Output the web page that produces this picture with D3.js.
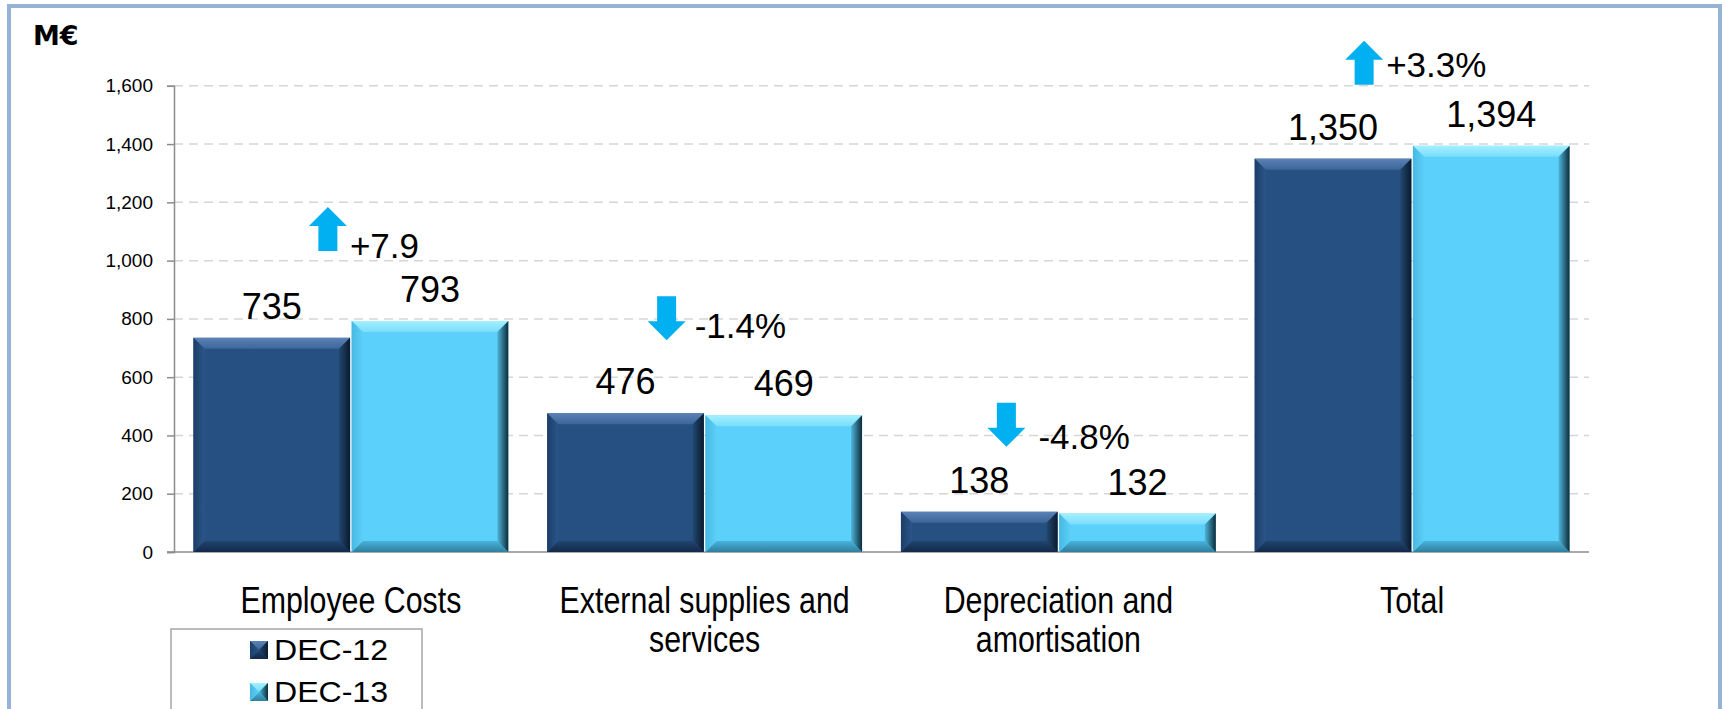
<!DOCTYPE html>
<html>
<head>
<meta charset="utf-8">
<script src="https://cdn.jsdelivr.net/npm/d3@7"></script>
<style>
  html, body { margin: 0; padding: 0; background: #ffffff; overflow: hidden; }
  svg { display: block; }
  text { font-family: "Liberation Sans", Arial, sans-serif; fill: #000; }
</style>
</head>
<body>
<svg id="chart" width="1727" height="709"></svg>
<script>
// ---- data ----
const categories = ["Employee Costs", "External supplies and services", "Depreciation and amortisation", "Total"];
const categoryLines = [["Employee Costs"], ["External supplies and", "services"], ["Depreciation and", "amortisation"], ["Total"]];
const seriesNames = ["DEC-12", "DEC-13"];
const dec12 = [735, 476, 138, 1350];
const dec13 = [793, 469, 132, 1394];
const changeLabels = ["+7.9", "-1.4%", "-4.8%", "+3.3%"];
const changeDirections = ["up", "down", "down", "up"];
const yTicks = [0, 200, 400, 600, 800, 1000, 1200, 1400, 1600];
const unitLabel = "M€";

// ---- layout ----
const W = 1727, H = 709;
const plot = { left: 174, right: 1589, top: 85.8, bottom: 552 };
// placement of each change marker: arrow offset from group centre,
// text baseline height above the taller bar, arrow top above that baseline, text gap
const markerLayout = [
  { dx: -23, lift: 63, arrowTop: 51, gap: 22 },
  { dx: -38, lift: 75, arrowTop: 42, gap: 28 },
  { dx: -52, lift: 63, arrowTop: 46, gap: 32 },
  { dx: -48, lift: 69, arrowTop: 36, gap: 22 }
];
const arrowShape = { h: 44, headW: 38, headH: 19, shaftW: 19 };
const bevel = 11;

const palette = {
  "DEC-12": { face: "#265082", top0: "#5a82b6", top1: "#3c659a", bot0: "#20446f", bot1: "#13294a",
              left0: "#1c3d66", left1: "#2a568a", right0: "#22486f", right1: "#0b1a2e" },
  "DEC-13": { face: "#5bd0fb", top0: "#a3f0ff", top1: "#79ddfc", bot0: "#48b3d9", bot1: "#2f7f9e",
              left0: "#47b8e2", left1: "#5bcff8", right0: "#4fb6dc", right1: "#0c2c3a" }
};

const svg = d3.select("#chart");

// frame
svg.append("rect")
  .attr("x", 9).attr("y", 6).attr("width", 1711).attr("height", 760)
  .attr("fill", "#ffffff").attr("stroke", "#95b3d7").attr("stroke-width", 4);

// gradients for the bevelled bars
const defs = svg.append("defs");
seriesNames.forEach((s, i) => {
  const c = palette[s];
  const mk = (id, x1, y1, x2, y2, c0, c1) => {
    const g = defs.append("linearGradient").attr("id", id)
      .attr("x1", x1).attr("y1", y1).attr("x2", x2).attr("y2", y2);
    g.append("stop").attr("offset", "0%").attr("stop-color", c0);
    g.append("stop").attr("offset", "100%").attr("stop-color", c1);
  };
  mk(`g${i}top`, 0, 0, 0, 1, c.top0, c.top1);
  mk(`g${i}bot`, 0, 0, 0, 1, c.bot0, c.bot1);
  mk(`g${i}left`, 0, 0, 1, 0, c.left0, c.left1);
  mk(`g${i}right`, 0, 0, 1, 0, c.right0, c.right1);
});

// scales
const y = d3.scaleLinear().domain([0, 1600]).range([plot.bottom, plot.top]);
const x0 = d3.scaleBand().domain(categories).range([plot.left, plot.right])
  .paddingInner(0.11).paddingOuter(0.055);
const x1 = d3.scaleBand().domain(seriesNames).range([0, x0.bandwidth()]).paddingInner(0.01);

// gridlines
svg.append("g")
  .selectAll("line")
  .data(yTicks.filter(t => t > 0))
  .join("line")
  .attr("x1", plot.left).attr("x2", plot.right)
  .attr("y1", d => y(d)).attr("y2", d => y(d))
  .attr("stroke", "#d6d6d6").attr("stroke-width", 1.5)
  .attr("stroke-dasharray", "9,6");

// y axis
const yAxis = svg.append("g")
  .attr("transform", `translate(${plot.left},0)`)
  .call(d3.axisLeft(y).tickValues(yTicks).tickSize(7).tickPadding(14)
    .tickFormat(d3.format(",")));
yAxis.select(".domain").attr("stroke", "#8c8c8c").attr("stroke-width", 1.5);
yAxis.selectAll(".tick line").attr("stroke", "#8c8c8c").attr("stroke-width", 1.5);
yAxis.selectAll(".tick text")
  .attr("font-size", 19).attr("fill", "#000")
  .style("font-family", '"Liberation Sans", Arial, sans-serif');

// baseline
svg.append("line")
  .attr("x1", plot.left - 7).attr("x2", plot.right)
  .attr("y1", y(0)).attr("y2", y(0))
  .attr("stroke", "#8c8c8c").attr("stroke-width", 1.5);

// bars
const rows = categories.map((c, i) => ({ cat: c, i, values: [dec12[i], dec13[i]] }));

function drawBevel(g, x, yTop, w, h, si, b) {
  const bb = Math.min(b, w / 2, h / 2);
  g.append("rect").attr("x", x).attr("y", yTop).attr("width", w).attr("height", h)
    .attr("fill", palette[seriesNames[si]].face);
  const xr = x + w, yb = yTop + h;
  const polys = [
    { id: "top", pts: [[x, yTop], [xr, yTop], [xr - bb, yTop + bb], [x + bb, yTop + bb]] },
    { id: "bot", pts: [[x + bb, yb - bb], [xr - bb, yb - bb], [xr, yb], [x, yb]] },
    { id: "left", pts: [[x, yTop], [x + bb, yTop + bb], [x + bb, yb - bb], [x, yb]] },
    { id: "right", pts: [[xr - bb, yTop + bb], [xr, yTop], [xr, yb], [xr - bb, yb - bb]] }
  ];
  polys.forEach(p => {
    g.append("polygon")
      .attr("points", p.pts.map(q => q.join(",")).join(" "))
      .attr("fill", `url(#g${si}${p.id})`);
  });
}

const groups = svg.append("g").selectAll("g")
  .data(rows).join("g")
  .attr("transform", d => `translate(${x0(d.cat)},0)`);

groups.each(function (d) {
  const g = d3.select(this);
  d.values.forEach((v, si) => {
    const bx = x1(seriesNames[si]);
    drawBevel(g, bx, y(v), x1.bandwidth(), y(0) - y(v), si, bevel);
    g.append("text")
      .attr("x", bx + x1.bandwidth() / 2)
      .attr("y", y(v) - 19)
      .attr("text-anchor", "middle")
      .attr("font-size", 36)
      .text(d3.format(",")(v));
  });
});

// change markers (arrow + percentage)
rows.forEach((d, i) => {
  const L = markerLayout[i];
  const cx = x0(d.cat) + x0.bandwidth() / 2 + L.dx;
  const base = y(Math.max(dec12[i], dec13[i])) - L.lift;
  const top = base - L.arrowTop;
  const a = arrowShape;
  let pts;
  if (changeDirections[i] === "up") {
    pts = [[cx, top], [cx + a.headW / 2, top + a.headH], [cx + a.shaftW / 2, top + a.headH],
           [cx + a.shaftW / 2, top + a.h], [cx - a.shaftW / 2, top + a.h],
           [cx - a.shaftW / 2, top + a.headH], [cx - a.headW / 2, top + a.headH]];
  } else {
    const sb = top + a.h - a.headH;
    pts = [[cx - a.shaftW / 2, top], [cx + a.shaftW / 2, top], [cx + a.shaftW / 2, sb],
           [cx + a.headW / 2, sb], [cx, top + a.h], [cx - a.headW / 2, sb], [cx - a.shaftW / 2, sb]];
  }
  svg.append("polygon").attr("points", pts.map(p => p.join(",")).join(" ")).attr("fill", "#00b0f0");
  svg.append("text")
    .attr("x", cx + L.gap).attr("y", base)
    .attr("font-size", 35)
    .text(changeLabels[i]);
});

// category labels (narrow face)
rows.forEach((d, i) => {
  const cx = x0(d.cat) + x0.bandwidth() / 2;
  const t = svg.append("text")
    .attr("transform", `translate(${cx},613) scale(0.82,1)`)
    .attr("text-anchor", "middle")
    .attr("font-size", 37);
  categoryLines[i].forEach((line, k) => {
    t.append("tspan").attr("x", 0).attr("y", k * 39).text(line);
  });
});

// unit label
svg.append("text")
  .attr("x", 33).attr("y", 45)
  .attr("font-size", 27).attr("font-weight", "bold")
  .style("font-family", '"DejaVu Sans", Verdana, sans-serif')
  .text(unitLabel);

// legend
const legend = svg.append("g");
legend.append("rect")
  .attr("x", 171).attr("y", 629).attr("width", 251).attr("height", 120)
  .attr("fill", "#ffffff").attr("stroke", "#a6a6a6").attr("stroke-width", 1.5);
seriesNames.forEach((s, si) => {
  const ly = 641 + si * 42;
  const g = legend.append("g");
  drawBevel(g, 250, ly, 18, 18, si, 9);
  legend.append("text")
    .attr("x", 274).attr("y", ly + 19)
    .attr("font-size", 29)
    .attr("textLength", 114).attr("lengthAdjust", "spacingAndGlyphs")
    .text(s);
});
</script>
</body>
</html>
